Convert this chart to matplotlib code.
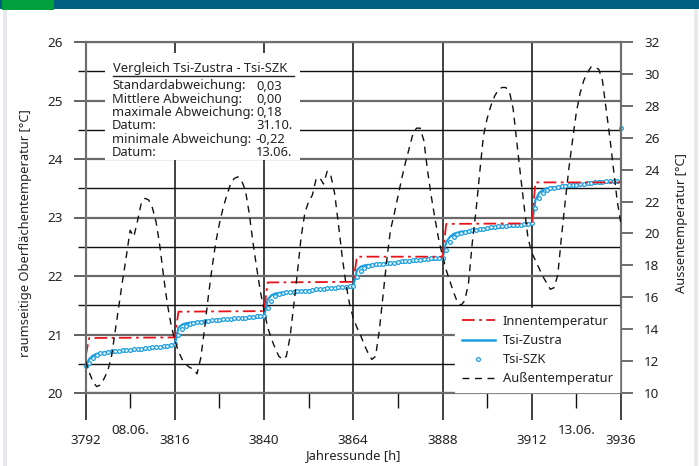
import matplotlib
matplotlib.use("Agg")
import matplotlib.pyplot as plt
from matplotlib.lines import Line2D
from matplotlib.patches import Rectangle
import numpy as np

plt.rcParams['font.family'] = ['Noto Sans', 'DejaVu Sans']

# ---------------- data ----------------
hours_start = 3792
hours_end = 3936
hours = list(range(3792, 3937))  # hourly time axis

x_ticks = [3792, 3816, 3840, 3864, 3888, 3912, 3936]
date_labels = ["08.06.", "13.06."]
date_positions = [3804, 3924]

# inner temperature (step profile)
inner_h = [3792, 3793, 3816, 3817, 3840, 3841, 3864, 3865, 3888, 3889, 3912, 3913, 3936]
inner_t = [20.62, 20.94, 20.95, 21.39, 21.40, 21.89, 21.90, 22.33, 22.33, 22.89, 22.90, 23.60, 23.60]

tsi_zustra = [
    20.45, 20.58, 20.64, 20.67, 20.68, 20.69, 20.70, 20.70, 20.71, 20.71, 20.72, 20.72,
    20.73, 20.73, 20.74, 20.74, 20.75, 20.76, 20.76, 20.77, 20.78, 20.79, 20.80, 20.81,
    20.82, 21.12, 21.17, 21.19, 21.20, 21.21, 21.21, 21.22, 21.22, 21.23, 21.23, 21.24,
    21.24, 21.25, 21.25, 21.26, 21.26, 21.27, 21.27, 21.28, 21.28, 21.29, 21.29, 21.30,
    21.31, 21.60, 21.67, 21.70, 21.71, 21.72, 21.72, 21.73, 21.73, 21.74, 21.74, 21.75,
    21.75, 21.76, 21.76, 21.77, 21.77, 21.78, 21.78, 21.79, 21.79, 21.80, 21.80, 21.81,
    21.82, 22.10, 22.16, 22.18, 22.19, 22.19, 22.20, 22.20, 22.21, 22.21, 22.22, 22.22,
    22.23, 22.23, 22.24, 22.25, 22.25, 22.26, 22.26, 22.27, 22.27, 22.28, 22.28, 22.29,
    22.30, 22.58, 22.67, 22.72, 22.74, 22.76, 22.76, 22.77, 22.78, 22.78, 22.79, 22.80,
    22.80, 22.81, 22.82, 22.82, 22.83, 22.84, 22.84, 22.85, 22.85, 22.86, 22.86, 22.87,
    22.88, 23.30, 23.42, 23.47, 23.50, 23.51, 23.52, 23.52, 23.53, 23.54, 23.54, 23.55,
    23.55, 23.56, 23.57, 23.57, 23.58, 23.58, 23.59, 23.59, 23.60, 23.60, 23.61, 23.61,
    23.61,
]

tsi_szk = [
    20.47, 20.52, 20.60, 20.65, 20.68, 20.69, 20.70, 20.71, 20.71, 20.72, 20.73, 20.73,
    20.74, 20.75, 20.75, 20.76, 20.77, 20.77, 20.78, 20.79, 20.79, 20.80, 20.81, 20.82,
    20.83, 21.00, 21.10, 21.15, 21.18, 21.20, 21.21, 21.22, 21.23, 21.23, 21.24, 21.25,
    21.25, 21.26, 21.26, 21.27, 21.28, 21.28, 21.29, 21.29, 21.30, 21.30, 21.31, 21.31,
    21.32, 21.45, 21.58, 21.65, 21.69, 21.71, 21.72, 21.73, 21.73, 21.74, 21.74, 21.75,
    21.75, 21.76, 21.77, 21.77, 21.78, 21.79, 21.79, 21.80, 21.81, 21.81, 21.82, 21.83,
    21.83, 21.98, 22.08, 22.14, 22.17, 22.19, 22.20, 22.21, 22.21, 22.22, 22.23, 22.23,
    22.24, 22.25, 22.25, 22.26, 22.27, 22.27, 22.28, 22.29, 22.29, 22.30, 22.30, 22.31,
    22.31, 22.45, 22.58, 22.66, 22.71, 22.74, 22.76, 22.77, 22.78, 22.79, 22.80, 22.81,
    22.82, 22.83, 22.84, 22.85, 22.85, 22.86, 22.87, 22.87, 22.88, 22.88, 22.89, 22.89,
    22.90, 23.17, 23.33, 23.42, 23.47, 23.50, 23.51, 23.52, 23.53, 23.54, 23.55, 23.55,
    23.56, 23.57, 23.58, 23.59, 23.59, 23.60, 23.61, 23.61, 23.62, 23.62, 23.63, 23.63,
    24.53,
]

outside_t = [
    12.0, 11.3, 10.7, 10.4, 10.5, 10.9, 11.4, 12.3, 13.9, 15.5, 17.1, 18.6,
    20.2, 19.8, 20.8, 21.9, 22.2, 22.1, 21.6, 20.7, 19.2, 17.3, 15.6, 14.3,
    13.3, 12.6, 12.1, 11.8, 11.6, 11.5, 11.2, 12.2, 14.0, 16.0, 17.8, 19.4,
    20.6, 21.6, 22.4, 23.1, 23.45, 23.55, 23.3, 22.7, 21.3, 19.5, 17.9, 16.4,
    15.2, 14.1, 13.4, 12.8, 12.3, 12.1, 12.3, 13.5, 15.5, 17.6, 19.8, 21.3,
    22.0, 22.4, 23.4, 23.5, 23.1, 23.9, 23.6, 22.5, 20.6, 18.6, 16.9, 15.6,
    14.7, 14.1, 13.6, 13.0, 12.5, 12.1, 12.3, 13.9, 16.1, 18.3, 20.2, 21.2,
    22.3, 23.4, 24.4, 25.3, 26.2, 26.6, 26.6, 25.8, 23.9, 22.3, 20.9, 19.6,
    18.6, 17.7, 17.0, 16.3, 15.7, 15.5, 15.8, 16.9, 19.4, 21.4, 23.8, 26.1,
    27.2, 28.0, 28.6, 29.0, 29.15, 29.15, 28.9, 27.8, 25.7, 23.6, 21.6, 19.7,
    18.8, 18.3, 17.8, 17.3, 16.9, 16.5, 16.6, 17.4, 19.8, 22.0, 24.1, 25.9,
    27.6, 28.8, 29.6, 30.1, 30.45, 30.4, 30.3, 29.6, 27.8, 26.0, 24.0, 22.0,
    20.6,
]

stats_labels = ["Standardabweichung:", "Mittlere Abweichung:", "maximale Abweichung:",
                "Datum:", "minimale Abweichung:", "Datum:"]
stats_values = ["0,03", "0,00", "0,18", "31.10.", "-0,22", "13.06."]
box_title = "Vergleich Tsi-Zustra - Tsi-SZK"

# ---------------- figure ----------------
W, H = 699, 466
fig = plt.figure(figsize=(W / 100, H / 100), dpi=100)
fig.patch.set_facecolor('white')

def fx(px):
    return px / W

def fy(py):
    return 1 - py / H

FS = 9.3

# header and border decoration
fig.add_artist(Rectangle((0, fy(9)), 1, 9 / H, transform=fig.transFigure,
                         facecolor='#005e80', edgecolor='none', zorder=5))
fig.add_artist(Rectangle((fx(2), fy(10)), 52 / W, 10 / H, transform=fig.transFigure,
                         facecolor='#00a03c', edgecolor='none', zorder=6))
fig.add_artist(Rectangle((fx(3), 0), 4 / W, fy(9), transform=fig.transFigure,
                         facecolor='#e6eaee', edgecolor='none', zorder=4))
fig.add_artist(Rectangle((fx(694), 0), 4 / W, fy(9), transform=fig.transFigure,
                         facecolor='#e6eaee', edgecolor='none', zorder=4))

L, R, T, B = 85.5, 621, 42, 393
ax = fig.add_axes([fx(L), fy(B), (R - L) / W, (B - T) / H])
ax2 = ax.twinx()

blue = '#1c9fe0'
red = '#e8141c'
txtc = '#222222'

ax.plot(hours, tsi_zustra, color=blue, lw=1.6, zorder=3)
ax.plot(hours, tsi_szk, linestyle='none', marker='o', ms=2.7, mfc='white',
        mec=blue, mew=0.9, zorder=4, clip_on=False)
ax.plot(inner_h, inner_t, color=red, lw=1.3, dashes=(7, 2.5, 1.5, 2.5), zorder=5)
ax2.plot(hours, outside_t, color='#111111', lw=1.0, dashes=(5, 4), zorder=3)

ax.set_xlim(hours_start, hours_end)
ax.set_ylim(20, 26)
ax2.set_ylim(10, 32)

ax.set_xticks(x_ticks)
ax.set_xticks(list(range(3804, 3936, 24)), minor=True)
ax.set_yticks(range(20, 27))
ax.set_yticks(np.arange(20.5, 26, 1.0), minor=True)
ax2.set_yticks(range(10, 33, 2))

ax.grid(which='major', axis='y', color='#6a6a6a', lw=1.6)
ax.grid(which='minor', axis='y', color='#111111', lw=1.0)
ax.grid(which='major', axis='x', color='#333333', lw=1.3)
ax.set_axisbelow(True)

ax.tick_params(axis='y', which='major', direction='out', length=8.6, width=1.3,
               color='#555555', labelsize=FS + 0.4, labelcolor=txtc, pad=8)
ax.tick_params(axis='y', which='minor', direction='out', length=5.8, width=1.0,
               color='#111111')
ax.tick_params(axis='x', which='major', direction='out', length=19.4, width=1.3,
               color='#333333', labelsize=FS + 0.4, labelcolor=txtc, pad=10)
ax.tick_params(axis='x', which='minor', direction='out', length=10.8, width=1.0,
               color='#111111')
ax2.tick_params(axis='y', direction='out', length=8.6, width=1.2, color='#555555',
                labelsize=FS + 0.4, labelcolor=txtc, pad=8)

for a in (ax, ax2):
    for s in a.spines.values():
        s.set_color('#6e6e6e')
        s.set_linewidth(1.5)

ax.set_ylabel("raumseitige Oberflächentemperatur [°C]", fontsize=FS, color=txtc)
ax.yaxis.set_label_coords(-(L - 26) / (R - L), (B - 233) / (B - T))
ax.yaxis.label.set_va('center')
ax2.set_ylabel("Aussentemperatur [°C]", fontsize=FS, color=txtc)
ax2.yaxis.set_label_coords((682 - L) / (R - L), (B - 223) / (B - T))
ax2.yaxis.label.set_va('center')
ax.set_xlabel("Jahressunde [h]", fontsize=FS, color=txtc)
ax.xaxis.set_label_coords(0.5, -(456 - B) / (B - T))
ax.xaxis.label.set_va('center')

for lab, pos in zip(date_labels, date_positions):
    ax.annotate(lab, xy=(pos, 0), xycoords=('data', 'axes fraction'),
                xytext=(0, -(430 - B) * 0.72), textcoords='offset points',
                ha='center', va='center', fontsize=FS + 0.4, color=txtc)

# statistics box
fig.add_artist(Rectangle((fx(105), fy(160)), 195 / W, 107 / H, transform=fig.transFigure,
                         facecolor='white', edgecolor='none', zorder=7))
fig.text(fx(113), fy(68), box_title, fontsize=FS, color=txtc, va='center', ha='left', zorder=8)
fig.add_artist(Line2D([fx(113), fx(294)], [fy(76), fy(76)], transform=fig.transFigure,
                      color='#222222', lw=1.0, zorder=8))
for i, (lab, val) in enumerate(zip(stats_labels, stats_values)):
    y = 86 + i * 13.3
    fig.text(fx(112), fy(y), lab, fontsize=FS, color=txtc, va='center', ha='left', zorder=8)
    fig.text(fx(256), fy(y), val, fontsize=FS, color=txtc, va='center', ha='left', zorder=8)

# legend
handles = [
    Line2D([], [], color=red, lw=1.3, dashes=(7, 2.5, 1.5, 2.5)),
    Line2D([], [], color=blue, lw=1.8),
    Line2D([], [], linestyle='none', marker='o', ms=2.7, mfc='white', mec=blue, mew=0.9),
    Line2D([], [], color='#111111', lw=1.0, dashes=(5, 4)),
]
labels = ["Innentemperatur", "Tsi-Zustra", "Tsi-SZK", "Außentemperatur"]
leg = ax2.legend(handles, labels, loc='lower right', bbox_to_anchor=(0.997, 0.003),
                 fontsize=FS, frameon=True, fancybox=False, framealpha=1,
                 facecolor='white', edgecolor='white', borderaxespad=0,
                 handlelength=2.6, handletextpad=0.6, labelspacing=0.48,
                 borderpad=0.5)
for t in leg.get_texts():
    t.set_color(txtc)

fig.savefig("out.png", dpi=100)
